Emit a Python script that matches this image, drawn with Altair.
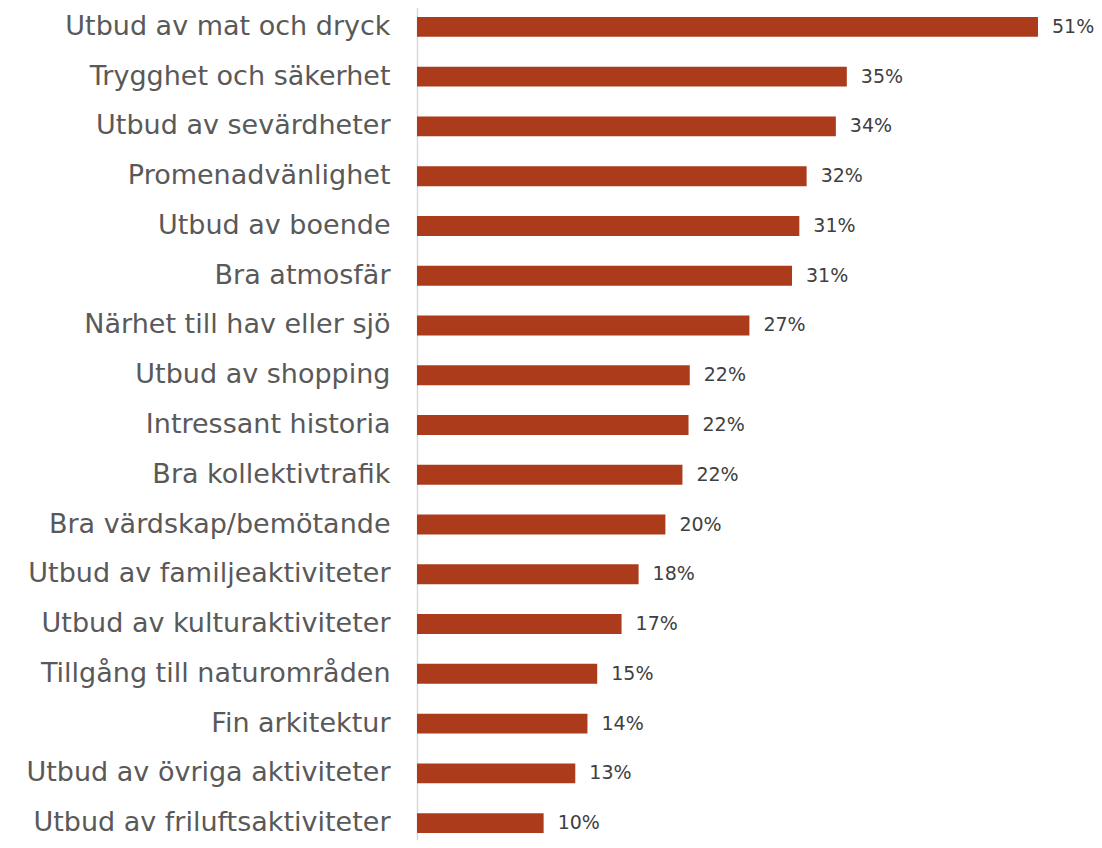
import altair as alt
import pandas as pd

categories = [
    "Utbud av mat och dryck", "Trygghet och säkerhet", "Utbud av sevärdheter",
    "Promenadvänlighet", "Utbud av boende", "Bra atmosfär",
    "Närhet till hav eller sjö", "Utbud av shopping", "Intressant historia",
    "Bra kollektivtrafik", "Bra värdskap/bemötande", "Utbud av familjeaktiviteter",
    "Utbud av kulturaktiviteter", "Tillgång till naturområden", "Fin arkitektur",
    "Utbud av övriga aktiviteter", "Utbud av friluftsaktiviteter",
]
values = [51.0, 35.3, 34.4, 32.0, 31.4, 30.8, 27.3, 22.4, 22.3, 21.8, 20.4,
          18.2, 16.8, 14.8, 14.0, 13.0, 10.4]
labels = ["51%", "35%", "34%", "32%", "31%", "31%", "27%", "22%", "22%", "22%",
          "20%", "18%", "17%", "15%", "14%", "13%", "10%"]

df = pd.DataFrame({"cat": categories, "val": values, "lab": labels})

FONT = "DejaVu Sans"
W = 677
XMAX = W / 12.176

y = alt.Y("cat:N", sort=categories, title=None,
          scale=alt.Scale(range=[-6, 840], paddingInner=0.6, paddingOuter=0.3),
          axis=alt.Axis(ticks=False, domainColor="#d9d9d9", domainWidth=1.5,
                        labelFont=FONT, labelFontSize=27, labelColor="#595959",
                        labelPadding=27, labelLimit=420))
x = alt.X("val:Q", title=None, scale=alt.Scale(domain=[0, XMAX], nice=False, zero=True),
          axis=None)

bars = alt.Chart(df).mark_bar(color="#AB3B1A").encode(x=x, y=y)
text = alt.Chart(df).mark_text(align="left", baseline="middle", dx=14,
                               font=FONT, fontSize=19, color="#404040").encode(
    x=x, y=y, text="lab:N")

chart = (bars + text).properties(
    width=W, height=832,
    autosize=alt.AutoSizeParams(type="none"),
    padding={"left": 409, "top": 0, "right": 0, "bottom": 0},
).configure_view(stroke=None)

chart.save("out.html", embed_options={"renderer": "svg", "actions": False})
